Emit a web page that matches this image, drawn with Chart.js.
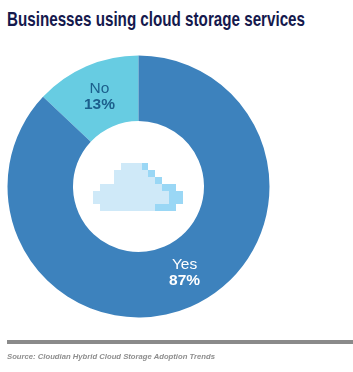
<!DOCTYPE html>
<html>
<head>
<meta charset="utf-8">
<title>Businesses using cloud storage services</title>
<script src="https://cdn.jsdelivr.net/npm/chart.js@4"></script>
<style>
    html, body { margin: 0; padding: 0; background: #fff; }
    #wrap { position: relative; width: 353px; height: 372px; overflow: hidden; font-family: "Liberation Sans", Arial, sans-serif; }
    #chart { position: absolute; left: 0; top: 0; }
    #title { position: absolute; left: 7px; top: 7px; margin: 0; white-space: nowrap; color: #15194d; font: bold 21px "Liberation Sans", sans-serif; transform-origin: left top; }
    #rule { position: absolute; left: 7px; right: 0; top: 340px; height: 4px; background: #8a8a8a; }
    #source { position: absolute; left: 7px; top: 352px; white-space: nowrap; color: #8e8e8e; font: italic bold 7.7px "Liberation Sans", sans-serif; }
    #cloud { position: absolute; left: 80px; top: 140px; }
</style>
</head>
<body>
<div id="wrap">
    <h1 id="title">Businesses using cloud storage services</h1>
    <canvas id="chart" width="353" height="372"></canvas>
    <svg id="cloud" width="120" height="90" viewBox="0 0 360 270" shape-rendering="crispEdges">
        <g fill="#cfe9f8">
            <rect x="122" y="68" width="63" height="21"/>
            <rect x="102" y="89" width="103" height="21"/>
            <rect x="102" y="110" width="124" height="21"/>
            <rect x="60" y="131" width="187" height="21"/>
            <rect x="40" y="152" width="228" height="41"/>
            <rect x="60" y="193" width="166" height="20"/>
        </g>
        <g fill="#9ad7f5">
            <rect x="185" y="68" width="20" height="21"/>
            <rect x="205" y="89" width="21" height="21"/>
            <rect x="226" y="110" width="21" height="21"/>
            <rect x="247" y="131" width="41" height="21"/>
            <rect x="268" y="152" width="41" height="41"/>
            <rect x="226" y="193" width="62" height="20"/>
        </g>
    </svg>
    <div id="rule"></div>
    <div id="source">Source: Cloudian Hybrid Cloud Storage Adoption Trends</div>
</div>
<script>
const categories = ['No', 'Yes'];
const shares = [13, 87];
const sliceColors = ['#67cce2', '#3d82bd'];
const labelColors = ['#1c5f8c', '#ffffff'];

// no condensed font installed, so squeeze the title to the width it has in the original
const titleEl = document.getElementById('title');
titleEl.style.transform = `scaleX(${298 / titleEl.offsetWidth})`;

// draws "No / 13%" inside each slice, Chart.js has no built in data labels
const sliceLabels = {
    id: 'sliceLabels',
    afterDatasetsDraw(chart) {
        const ctx = chart.ctx;
        chart.getDatasetMeta(0).data.forEach((arc, i) => {
            const nudge = i === 1 ? 7 : 0; // Yes label sits a bit right of the slice middle
            const lift = i === 1 ? 3 : -1.5;
            const pos = arc.getCenterPoint();
            ctx.save();
            ctx.textAlign = 'center';
            ctx.textBaseline = 'middle';
            ctx.fillStyle = labelColors[i];
            ctx.font = '15.5px "Liberation Sans", sans-serif';
            ctx.fillText(categories[i], pos.x + nudge, pos.y - 9 - lift);
            ctx.font = 'bold 15.5px "Liberation Sans", sans-serif';
            ctx.fillText(shares[i] + '%', pos.x + nudge, pos.y + 7 - lift);
            ctx.restore();
        });
    }
};

new Chart(document.getElementById('chart'), {
    type: 'doughnut',
    data: {
        labels: categories,
        datasets: [{ data: shares, backgroundColor: sliceColors, borderWidth: 0 }]
    },
    options: {
        responsive: false,
        animation: false,
        cutout: '50%',
        rotation: -46.8,
        layout: { padding: { left: 7.5, right: 83.5, top: 55.5, bottom: 54.5 } },
        plugins: { legend: { display: false }, tooltip: { enabled: false } }
    },
    plugins: [sliceLabels]
});
</script>
</body>
</html>
